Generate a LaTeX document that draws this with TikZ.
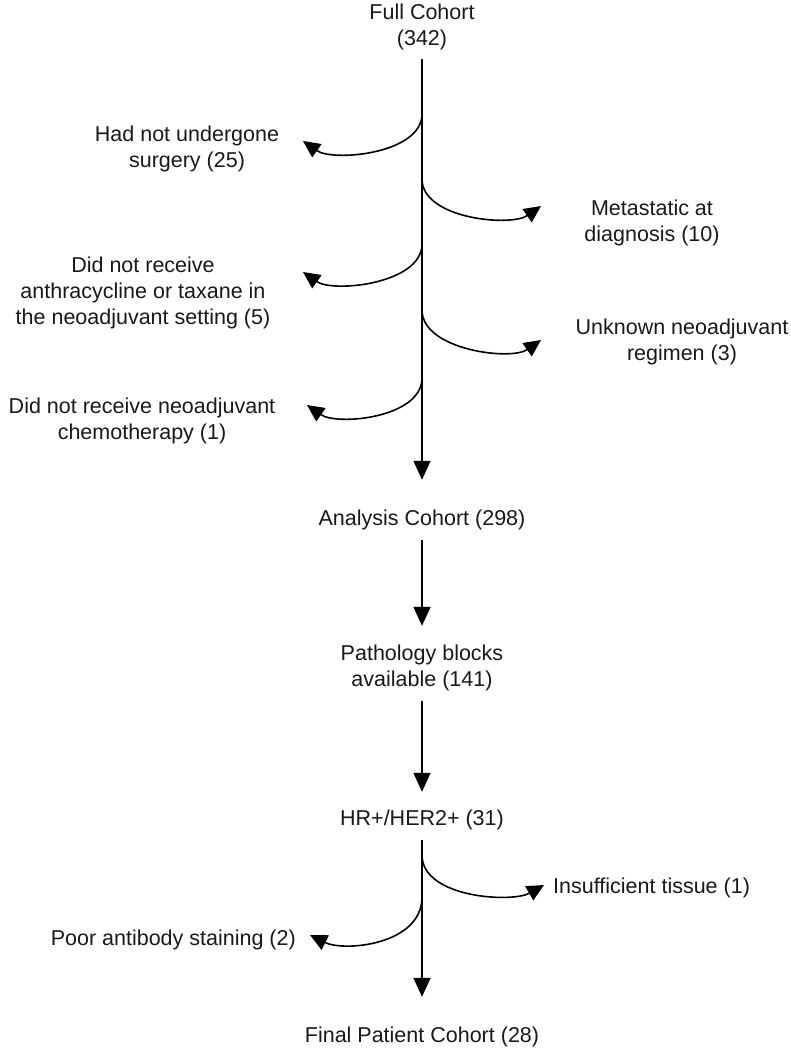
\documentclass[tikz,border=0pt]{standalone}
\usepackage{fontspec}
\setmainfont{Liberation Sans}
\usetikzlibrary{arrows.meta}
\tikzset{
  lbl/.style={font=\fontsize{21.5}{26}\selectfont, align=center, inner sep=0pt, text=black!90},
  mainarr/.style={line width=1.6pt, -{Triangle[length=19pt,width=17pt]}},
  brarr/.style={line width=1.6pt, -{Triangle[length=17pt,width=16pt]}}
}
\begin{document}
\begin{tikzpicture}[x=1pt,y=-1pt]
\fill[white] (0,0) rectangle (791,1050);
\useasboundingbox (0,0) rectangle (791,1050);

% main nodes
\node[lbl] (full) at (422,27) {Full Cohort\\(342)};
\node[lbl] (analysis) at (422,520) {Analysis Cohort (298)};
\node[lbl] (patho) at (422,668) {Pathology blocks\\available (141)};
\node[lbl] (hr) at (422,820) {HR+/HER2+ (31)};
\node[lbl] (final) at (422,1037) {Final Patient Cohort (28)};

% exclusion labels
\node[lbl] (l1) at (187,149) {Had not undergone\\surgery (25)};
\node[lbl] (r1) at (652,223) {Metastatic at\\diagnosis (10)};
\node[lbl] (l2) at (143,293) {Did not receive\\anthracycline or taxane in\\the neoadjuvant setting (5)};
\node[lbl] (r2) at (682,342) {Unknown neoadjuvant\\regimen (3)};
\node[lbl] (l3) at (142,421) {Did not receive neoadjuvant\\chemotherapy (1)};
\node[lbl, anchor=west] (r3) at (553,888) {Insufficient tissue (1)};
\node[lbl, anchor=east] (l4) at (296,940) {Poor antibody staining (2)};

% branch points on the main lines
\coordinate (b1) at (422,114);
\coordinate (b2) at (422,179);
\coordinate (b3) at (422,244);
\coordinate (b4) at (422,310);
\coordinate (b5) at (422,378);
\coordinate (b6) at (422,855);
\coordinate (b7) at (422,897);
% arrow tips of branches
\coordinate (t1) at (303,141);
\coordinate (t2) at (541,206);
\coordinate (t3) at (303,272);
\coordinate (t4) at (541,340);
\coordinate (t5) at (307,405);
\coordinate (t6) at (544,885);
\coordinate (t7) at (310,935);

% main arrows
\draw[mainarr, shorten <=9pt, shorten >=30pt] (full.south) -- (analysis.north);
\draw[mainarr, shorten <=10pt, shorten >=19pt] (analysis.south) -- (patho.north);
\draw[mainarr, shorten <=10pt, shorten >=18pt] (patho.south) -- (hr.north);
\draw[mainarr, shorten <=10pt, shorten >=30pt] (hr.south) -- (final.north);

% branches
\draw[brarr] (b1) .. controls +(0,40) and +(30,21) .. (t1);
\draw[brarr] (b2) .. controls +(0,40) and +(-30,21) .. (t2);
\draw[brarr] (b3) .. controls +(0,40) and +(30,21) .. (t3);
\draw[brarr] (b4) .. controls +(0,40) and +(-30,21) .. (t4);
\draw[brarr] (b5) .. controls +(0,40) and +(30,21) .. (t5);
\draw[brarr] (b6) .. controls +(0,43) and +(-32,18) .. (t6);
\draw[brarr] (b7) .. controls +(0,48) and +(34,17) .. (t7);
\end{tikzpicture}
\end{document}
